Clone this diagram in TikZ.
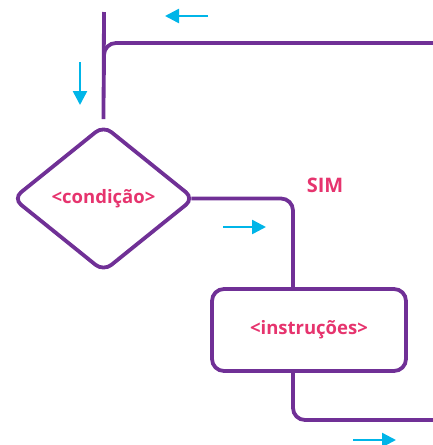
\documentclass[tikz,border=0pt]{standalone}
\usepackage{fontspec}
\setmainfont{Open Sans}
\usetikzlibrary{shapes.geometric,arrows.meta}
\definecolor{flowpurple}{RGB}{112,48,150}
\definecolor{txtpink}{RGB}{230,52,110}
\definecolor{arrcyan}{RGB}{0,181,232}
\tikzset{
  flow/.style={draw=flowpurple, line width=3.8pt},
  decision/.style={diamond, flow, rounded corners=10pt, minimum width=182pt, minimum height=147pt, inner sep=0pt, font=\fontsize{18.5}{22}\selectfont\bfseries, text=txtpink},
  stepbox/.style={rectangle, flow, rounded corners=12pt, minimum width=194pt, minimum height=82pt, inner sep=0pt, font=\fontsize{18.5}{22}\selectfont\bfseries, text=txtpink},
  dirarrow/.style={draw=arrcyan, line width=2.5pt, -{Triangle[length=14pt,width=14pt]}},
  lbl/.style={text=txtpink, font=\fontsize{20}{22}\selectfont\bfseries}
}
\begin{document}
\begin{tikzpicture}[x=1pt,y=-1pt]
\useasboundingbox (0,0) rectangle (432,445);
\node[decision] (cond) at (103.5,198.5) {\raisebox{3pt}{<condição>}};
\node[stepbox] (instr) at (309,330) {<instruções>};
\node[lbl] (sim) at (325,185) {SIM};
\coordinate (topin) at (104,12);
\coordinate (rightin) at (434,43);
\coordinate (merge) at (104,75);
\coordinate (rightout) at (434,420);
% connectors
\draw[flow] (topin) -- ([yshift=4pt]cond.north);
\draw[flow, rounded corners=12pt] (rightin) -| (merge);
\draw[flow, rounded corners=12pt] ([xshift=-5pt]cond.east) -| ([xshift=-16pt]instr.north);
\draw[flow, rounded corners=12pt] ([xshift=-16pt]instr.south) |- (rightout);
% direction arrows
\coordinate (a1s) at (208,16); \coordinate (a1e) at (165,16);
\coordinate (a2s) at (80,62); \coordinate (a2e) at (80,105);
\coordinate (a3s) at (223,227); \coordinate (a3e) at (266,227);
\coordinate (a4s) at (353,440); \coordinate (a4e) at (396,440);
\draw[dirarrow] (a1s) -- (a1e);
\draw[dirarrow] (a2s) -- (a2e);
\draw[dirarrow] (a3s) -- (a3e);
\draw[dirarrow] (a4s) -- (a4e);
\end{tikzpicture}
\end{document}
